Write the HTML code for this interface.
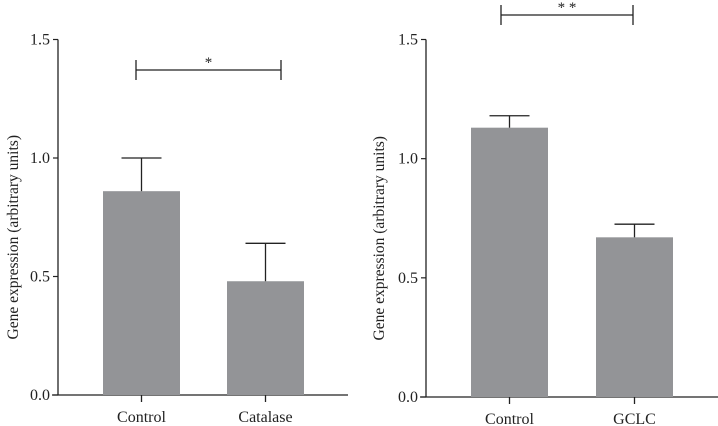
<!DOCTYPE html>
<html><head><meta charset="utf-8"><style>
body{margin:0;background:#fff}
svg{display:block;font-family:"Liberation Serif",serif}
</style></head><body>
<svg id="c" width="718" height="426"></svg>
<script>
const categoriesA=["Control","Catalase"];
const valuesA=[0.86,0.48];
const errorsA=[0.14,0.16];
const categoriesB=["Control","GCLC"];
const valuesB=[1.13,0.67];
const errorsB=[0.05,0.055];
const yTicks=["0.0","0.5","1.0","1.5"];
const NS="http://www.w3.org/2000/svg";
const svg=document.getElementById('c');
function mk(t,a,p){const e=document.createElementNS(NS,t);for(const k in a)e.setAttribute(k,a[k]);(p||svg).appendChild(e);return e;}
function panel(name,cats,vals,errs,ax,y0,y15,xEnd,centers,titleX,sig,sigY,star){
 const g=mk('g',{});
 
 
 const ys=v=>y0-(y0-y15)*v/1.5;
 const bw=77;
 mk('line',{x1:ax,y1:y15,x2:ax,y2:y0,stroke:'#222','stroke-width':1.3},g);
 mk('line',{x1:ax-6,y1:y0,x2:xEnd,y2:y0,stroke:'#222','stroke-width':1.3},g);
 yTicks.forEach(t=>{const y=ys(parseFloat(t));
  mk('line',{x1:ax-5,y1:y,x2:ax,y2:y,stroke:'#222','stroke-width':1.2},g);
  const tx=mk('text',{x:ax-8,y:y+5,'text-anchor':'end','font-size':16,fill:'#222'},g);tx.textContent=t;
  
  });
 cats.forEach((c,i)=>{const cx=centers[i];
  const b=mk('rect',{x:cx-bw/2,y:ys(vals[i]),width:bw,height:y0-ys(vals[i]),fill:'#939497'},g);
  
  
  const top=ys(vals[i]+errs[i]);
  mk('line',{x1:cx,y1:ys(vals[i]),x2:cx,y2:top,stroke:'#222','stroke-width':1.3},g);
  mk('line',{x1:cx-20,y1:top,x2:cx+20,y2:top,stroke:'#222','stroke-width':1.3},g);
  mk('line',{x1:cx,y1:y0,x2:cx,y2:y0+7,stroke:'#222','stroke-width':1.3},g);
  const t=mk('text',{x:cx,y:y0+27,'text-anchor':'middle','font-size':16,fill:'#222'},g);t.textContent=c;
  
  });
 const cy=(y0+y15)/2+20;
 const tt=mk('text',{x:titleX,y:cy,'text-anchor':'middle','font-size':15.5,fill:'#222',transform:`rotate(-90 ${titleX} ${cy})`},g);
 tt.textContent='Gene expression (arbitrary units)';
 
 
 mk('line',{x1:sig[0],y1:sigY,x2:sig[1],y2:sigY,stroke:'#222','stroke-width':1.3},g);
 mk('line',{x1:sig[0],y1:sigY-10,x2:sig[0],y2:sigY+10,stroke:'#222','stroke-width':1.3},g);
 mk('line',{x1:sig[1],y1:sigY-10,x2:sig[1],y2:sigY+10,stroke:'#222','stroke-width':1.3},g);
 const s=mk('text',{x:(sig[0]+sig[1])/2,y:sigY-3,'text-anchor':'middle','font-size':15,fill:'#222'},g);s.textContent=star;
 
 
}
panel('left-chart',categoriesA,valuesA,errorsA,58,395,39.5,348,[141.5,265.5],18,[136,281],70,'*');
panel('right-chart',categoriesB,valuesB,errorsB,426,397,39.5,718,[509.5,634.5],384,[501,633],15,'* *');
</script>
</body></html>
